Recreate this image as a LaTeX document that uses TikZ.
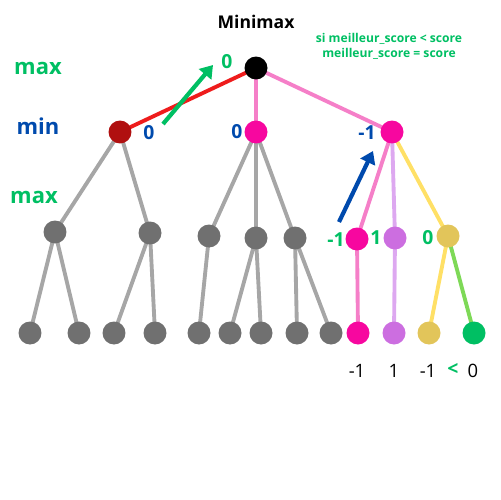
\documentclass[tikz,border=0pt]{standalone}
\usepackage{fontspec}
\setmainfont{Open Sans}
\usetikzlibrary{arrows.meta}
\definecolor{gnode}{HTML}{707070}
\definecolor{gedge}{HTML}{A6A6A6}
\definecolor{darkred}{HTML}{B01010}
\definecolor{magent}{HTML}{F7079F}
\definecolor{pinkedge}{HTML}{F57FC8}
\definecolor{lav}{HTML}{CC6EE0}
\definecolor{lavedge}{HTML}{DDA8F0}
\definecolor{ylw}{HTML}{E2C55A}
\definecolor{ylwedge}{HTML}{FFE066}
\definecolor{grn}{HTML}{00BF63}
\definecolor{grnedge}{HTML}{7ED957}
\definecolor{blu}{HTML}{004AAD}
\definecolor{redge}{HTML}{EE1C1C}
\pgfdeclarelayer{edges}
\pgfsetlayers{edges,main}
\begin{document}
\begin{tikzpicture}[x=0.02cm,y=-0.02cm,
  dot/.style={circle,fill=#1,inner sep=0pt,minimum size=0.46cm},
  edge/.style={draw=#1,line width=2.2pt},
  lvl/.style={font=\fontsize{12.5}{15}\selectfont\bfseries},
  val/.style={font=\fontsize{11}{13}\selectfont\bfseries,inner sep=0pt},
  leafval/.style={font=\fontsize{10.5}{12}\selectfont,inner sep=0pt},
  mover/.style={line width=2.4pt,-{Triangle[length=7pt,width=9pt]}}]
\useasboundingbox (0,0) rectangle (500,500);

% root and first level
\node[dot=black] (r) at (256,68) {};
\node[dot=darkred] (a) at (120,132) {};
\node[dot=magent] (b) at (256,132) {};
\node[dot=magent] (c) at (392,132) {};

% second level
\node[dot=gnode] (a1) at (55,232) {};
\node[dot=gnode] (a2) at (150,233) {};
\node[dot=gnode] (b1) at (209,236) {};
\node[dot=gnode] (b2) at (256,238) {};
\node[dot=gnode] (b3) at (295,238) {};
\node[dot=magent] (c1) at (357,239) {};
\node[dot=lav] (c2) at (395,238) {};
\node[dot=ylw] (c3) at (448,236) {};

% leaves
\node[dot=gnode] (l1) at (30,333) {};
\node[dot=gnode] (l2) at (79,333) {};
\node[dot=gnode] (l3) at (114,333) {};
\node[dot=gnode] (l4) at (155,333) {};
\node[dot=gnode] (l5) at (199,333) {};
\node[dot=gnode] (l6) at (230,333) {};
\node[dot=gnode] (l7) at (261,333) {};
\node[dot=gnode] (l8) at (297,333) {};
\node[dot=gnode] (l9) at (331,333) {};
\node[dot=magent] (l10) at (358,333) {};
\node[dot=lav] (l11) at (394,333) {};
\node[dot=ylw] (l12) at (429,333) {};
\node[dot=grn] (l13) at (474,333) {};

% edges, kept under the nodes
\begin{pgfonlayer}{edges}
\path[edge=redge] (r.center) -- (a.center);
\path[edge=pinkedge] (r.center) -- (b.center) (r.center) -- (c.center);
\path[edge=gedge] (a.center) -- (a1.center) (a.center) -- (a2.center)
  (b.center) -- (b1.center) (b.center) -- (b2.center) (b.center) -- (b3.center);
\path[edge=pinkedge] (c.center) -- (c1.center);
\path[edge=lavedge] (c.center) -- (c2.center);
\path[edge=ylwedge] (c.center) -- (c3.center);
\path[edge=gedge] (a1.center) -- (l1.center) (a1.center) -- (l2.center)
  (a2.center) -- (l3.center) (a2.center) -- (l4.center)
  (b1.center) -- (l5.center) (b2.center) -- (l6.center) (b2.center) -- (l7.center)
  (b3.center) -- (l8.center) (b3.center) -- (l9.center);
\path[edge=pinkedge] (c1.center) -- (l10.center);
\path[edge=lavedge] (c2.center) -- (l11.center);
\path[edge=ylwedge] (c3.center) -- (l12.center);
\path[edge=grnedge] (c3.center) -- (l13.center);
\end{pgfonlayer}

% titles and level labels
\node[font=\fontsize{10}{12}\selectfont\bfseries] (title) at (256,22) {Minimax};
\node[text=grn,font=\fontsize{6.9}{8.6}\selectfont\bfseries,align=center] (rule) at (389,46)
  {si meilleur\_score < score\\meilleur\_score = score};
\node[lvl,text=grn] (lmax1) at (38,68) {max};
\node[lvl,text=blu] (lmin) at (38,126) {min};
\node[lvl,text=grn] (lmax2) at (34,197) {max};

% propagated values
\node[val,text=grn] (vr) at (227,62) {0};
\node[val,text=blu] (va) at (149,133) {0};
\node[val,text=blu] (vb) at (237,132) {0};
\node[val,text=blu] (vc) at (367,133) {-1};
\node[val,text=grn] (vc1) at (336,240) {-1};
\node[val,text=grn] (vc2) at (376,238) {1};
\node[val,text=grn] (vc3) at (428,238) {0};

% leaf scores
\node[leafval] (s10) at (357,371) {-1};
\node[leafval] (s11) at (394,371) {1};
\node[leafval] (s12) at (428,371) {-1};
\node[leafval,text=grn,font=\fontsize{11}{12}\selectfont\bfseries] (lt) at (453,369) {<};
\node[leafval] (s13) at (473,371) {0};

% value propagation arrows
\coordinate (g0) at (163,124);
\coordinate (g1) at (213,65);
\coordinate (b0) at (339,222);
\coordinate (b1e) at (373,151);
\draw[mover,draw=grn,fill=grn] (g0) -- (g1);
\draw[mover,draw=blu,fill=blu] (b0) -- (b1e);
\end{tikzpicture}
\end{document}
